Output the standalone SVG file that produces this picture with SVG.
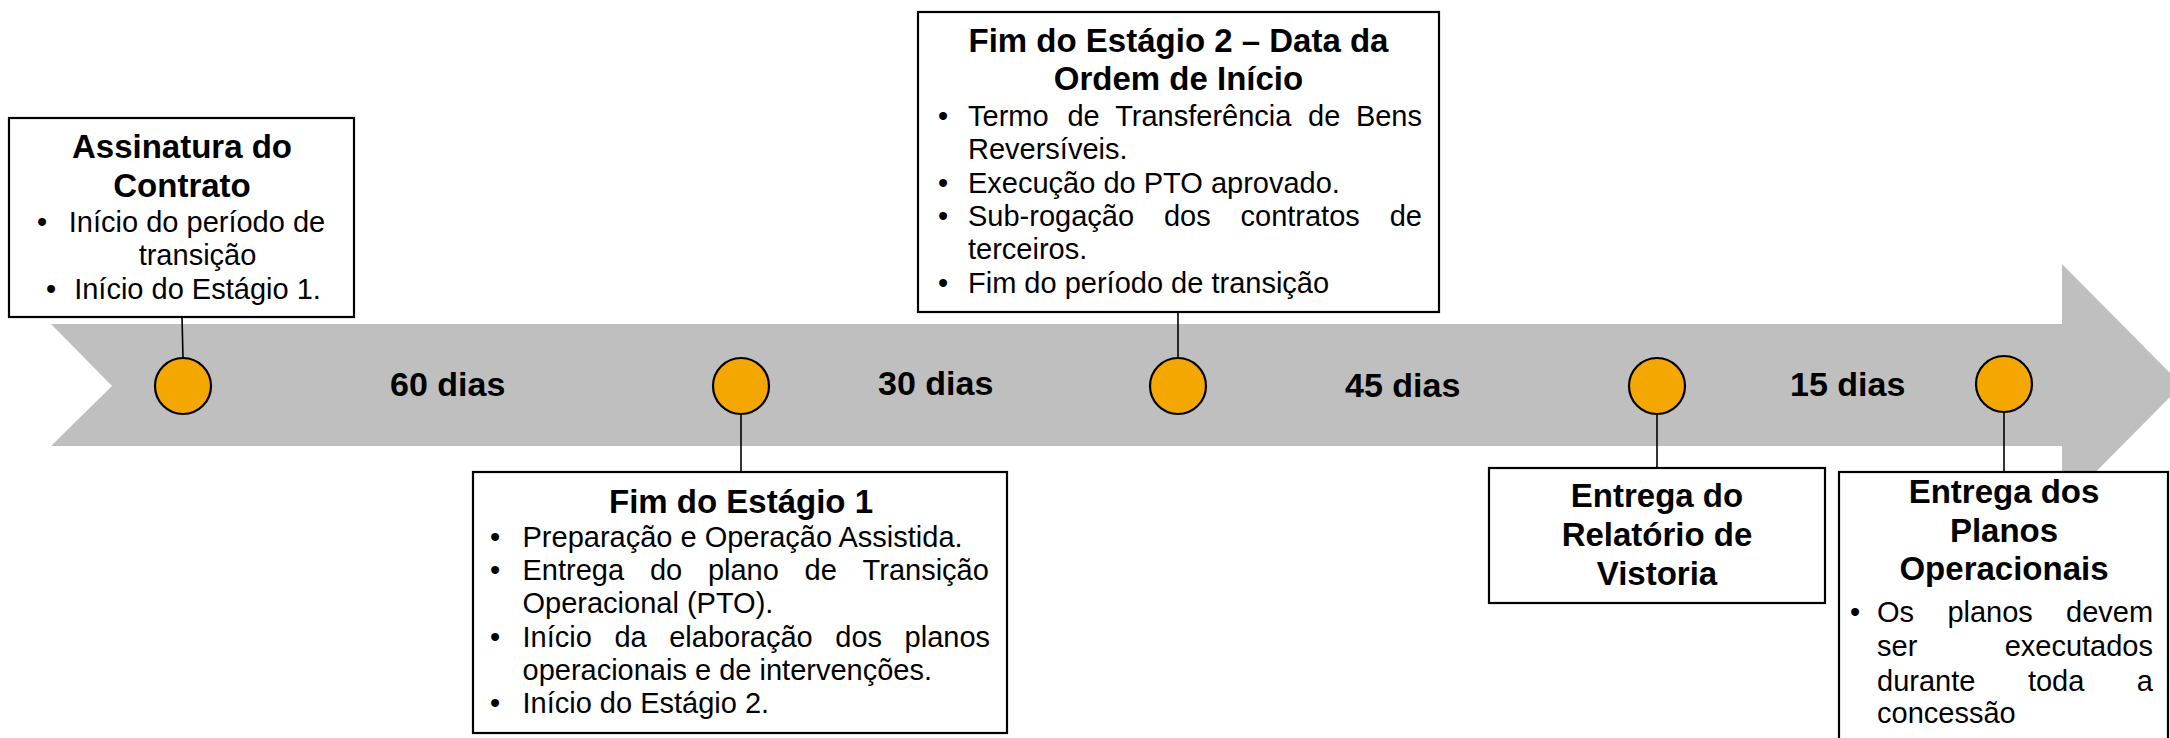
<svg xmlns="http://www.w3.org/2000/svg" width="2170" height="738" viewBox="0 0 2170 738">
<style>
.box{fill:#fff;stroke:#000;stroke-width:2.2}
.dot{fill:#F4A700;stroke:#000;stroke-width:2.2}
.ln{stroke:#000;stroke-width:1.6;fill:none}
text{font-family:"Liberation Sans",Arial,Helvetica,sans-serif;fill:#000}
.t{font-size:33px;font-weight:bold;text-anchor:middle}
.b{font-size:29px}
.bm{font-size:29px;text-anchor:middle}
.be{font-size:29px;text-anchor:end}
.d{font-size:34px;font-weight:bold}
</style>
<rect width="2170" height="738" fill="#fff"/>
<g id="timeline-arrow">
<polygon points="51,324 2062,324 2062,264 2182,385 2062,506 2062,446 51,446 112,386" fill="#BFBFBF"/>
</g>
<g id="durations">
<text class="d" x="390" y="396">60 dias</text>
<text class="d" x="878" y="395">30 dias</text>
<text class="d" x="1345" y="397">45 dias</text>
<text class="d" x="1790" y="396">15 dias</text>
</g>
<g id="connectors">
<line class="ln" x1="182" y1="317" x2="183" y2="358"/>
<line class="ln" x1="741" y1="414" x2="741" y2="472"/>
<line class="ln" x1="1178" y1="312" x2="1178" y2="358"/>
<line class="ln" x1="1657" y1="414" x2="1657" y2="468"/>
<line class="ln" x1="2004" y1="412" x2="2004" y2="472"/>
</g>
<g id="node-assinatura">
<circle class="dot" cx="183" cy="386" r="28"/>
<rect class="box" x="9" y="118" width="345" height="199"/>
<text class="t" x="182" y="158">Assinatura do</text>
<text class="t" x="182" y="197">Contrato</text>
<text class="bm" x="42" y="232">•</text>
<text class="bm" x="197" y="232">Início do período de</text>
<text class="bm" x="197.5" y="265">transição</text>
<text class="bm" x="51" y="299">•</text>
<text class="bm" x="197.5" y="299">Início do Estágio 1.</text>
</g>
<g id="node-fim-estagio1">
<circle class="dot" cx="741" cy="386" r="28"/>
<rect class="box" x="473" y="472" width="534" height="261"/>
<text class="t" x="741" y="513">Fim do Estágio 1</text>
<text class="bm" x="495" y="547">•</text>
<text class="b" x="522.5" y="547">Preparação e Operação Assistida.</text>
<text class="bm" x="495" y="580">•</text>
<text class="b" y="580"><tspan x="522.5">Entrega</tspan><tspan x="649.9">do</tspan><tspan x="707.9">plano</tspan><tspan x="804.6">de</tspan><tspan x="862.6">Transição</tspan></text>
<text class="b" x="522.5" y="613">Operacional (PTO).</text>
<text class="bm" x="495" y="647">•</text>
<text class="b" y="647"><tspan x="522.5">Início</tspan><tspan x="614.4">da</tspan><tspan x="669.2">elaboração</tspan><tspan x="835.3">dos</tspan><tspan x="904.6">planos</tspan></text>
<text class="b" x="522.5" y="680">operacionais e de intervenções.</text>
<text class="bm" x="495" y="713">•</text>
<text class="b" x="522.5" y="713">Início do Estágio 2.</text>
</g>
<g id="node-fim-estagio2">
<circle class="dot" cx="1178" cy="386" r="28"/>
<rect class="box" x="918" y="12" width="521" height="300"/>
<text class="t" x="1178.5" y="52">Fim do Estágio 2 – Data da</text>
<text class="t" x="1178.5" y="90">Ordem de Início</text>
<text class="bm" x="943" y="126">•</text>
<text class="b" y="126"><tspan x="968">Termo</tspan><tspan x="1067.4">de</tspan><tspan x="1115.2">Transferência</tspan><tspan x="1308.1">de</tspan><tspan x="1355.9">Bens</tspan></text>
<text class="b" x="968" y="159">Reversíveis.</text>
<text class="bm" x="943" y="193">•</text>
<text class="b" x="968" y="193">Execução do PTO aprovado.</text>
<text class="bm" x="943" y="226">•</text>
<text class="b" y="226"><tspan x="968">Sub-rogação</tspan><tspan x="1163.9">dos</tspan><tspan x="1240.5">contratos</tspan><tspan x="1389.7">de</tspan></text>
<text class="b" x="968" y="259">terceiros.</text>
<text class="bm" x="943" y="293">•</text>
<text class="b" x="968" y="293">Fim do período de transição</text>
</g>
<g id="node-relatorio">
<circle class="dot" cx="1657" cy="386" r="28"/>
<rect class="box" x="1489" y="468" width="336" height="135"/>
<text class="t" x="1657" y="507">Entrega do</text>
<text class="t" x="1657" y="546">Relatório de</text>
<text class="t" x="1657" y="585">Vistoria</text>
</g>
<g id="node-planos">
<circle class="dot" cx="2004" cy="384" r="28"/>
<rect class="box" x="1839" y="472" width="329" height="280"/>
<text class="t" x="2004" y="503">Entrega dos</text>
<text class="t" x="2004" y="542">Planos</text>
<text class="t" x="2004" y="580">Operacionais</text>
<text class="bm" x="1855" y="622">•</text>
<text class="b" y="622"><tspan x="1877">Os</tspan><tspan x="1947.4">planos</tspan><tspan x="2066">devem</tspan></text>
<text class="b" x="1877" y="656">ser</text>
<text class="be" x="2153" y="656">executados</text>
<text class="b" y="691"><tspan x="1877">durante</tspan><tspan x="2027.9">toda</tspan></text>
<text class="be" x="2153" y="691">a</text>
<text class="b" x="1877" y="723">concessão</text>
</g>
</svg>
